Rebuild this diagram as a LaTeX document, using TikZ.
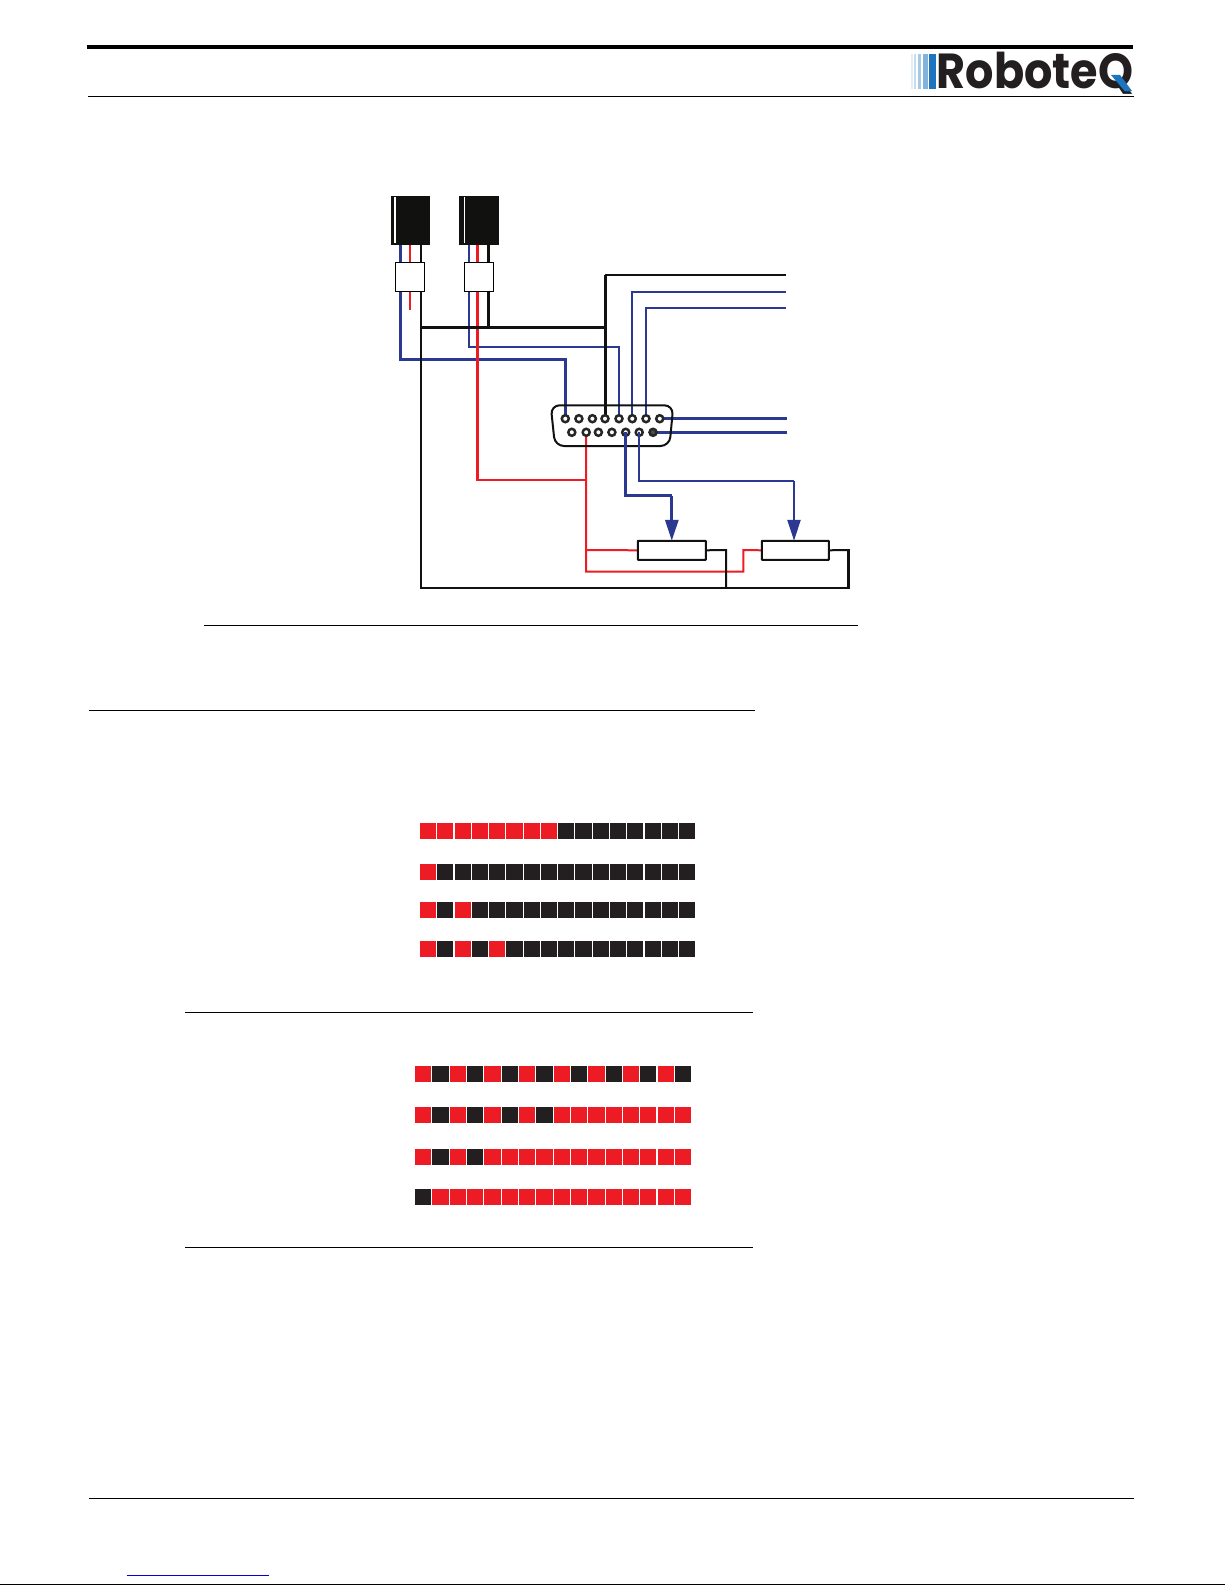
\documentclass[tikz,border=0pt]{standalone}
\usepackage{fontspec}
\setmainfont{Poppins}
\usetikzlibrary{arrows.meta, backgrounds}
\definecolor{wireblue}{RGB}{43,57,144}
\definecolor{wirered}{RGB}{237,28,36}
\definecolor{wireblack}{RGB}{17,17,15}
\definecolor{ledblack}{RGB}{35,31,32}
\definecolor{logoblue}{RGB}{28,117,190}
\def\px{0.02cm}
\tikzset{
    capbox/.style={fill=wireblack, draw=none, minimum width=39*\px, minimum height=49*\px, inner sep=0, outer sep=0},
    plugbox/.style={fill=white, draw=black, line width=1*\px, minimum width=29*\px, minimum height=29*\px, inner sep=0, outer sep=0},
    potbox/.style={fill=white, draw=wireblack, line width=2*\px, rounded corners=0.5*\px, minimum height=19*\px, inner sep=0, outer sep=0},
    pinhole/.style={circle, fill=white, draw=black!85, line width=2.5*\px, minimum size=7*\px, inner sep=0, outer sep=0},
    bluethin/.style={wireblue, line width=2*\px},
    bluemid/.style={wireblue, line width=2.5*\px},
    bluebold/.style={wireblue, line width=3*\px},
    redthin/.style={wirered, line width=2*\px},
    redbold/.style={wirered, line width=2.5*\px},
    blackthin/.style={wireblack, line width=2*\px},
    blackbold/.style={wireblack, line width=3*\px},
    rulethin/.style={black, line width=1*\px},
    wiper/.style={-{Triangle[length=21*\px, width=13*\px]}}
}

\begin{document}
\begin{tikzpicture}[x=\px, y=-\px]
        \useasboundingbox (0,0) rectangle (1225,1585);

        % Page rules
        \draw[black, line width=4*\px] (87,46.7) -- (1133,46.7);
        \draw[rulethin] (88,96.7) -- (1134,96.7);
        \draw[rulethin] (204,625.3) -- (858,625.3);
        \draw[rulethin] (89,710.2) -- (755,710.2);
        \draw[rulethin] (185,1012.4) -- (753,1012.4);
        \draw[rulethin] (185,1247.3) -- (753,1247.3);
        \draw[rulethin] (89,1498.3) -- (1134,1498.3);
        \draw[blue!85!black, line width=1*\px] (126.7,1575) -- (269,1575);
        \draw[rulethin] (0,1584.3) -- (1225,1584.3);

        % Logo
        \foreach \xa/\xb/\shade in {911.3/912.7/12, 914/916/25, 917.5/920.5/40, 922.5/927.5/55, 929/936/100} {
            \fill[logoblue!\shade] (\xa,54) rectangle (\xb,88.7);
        }
        \node[font=\bfseries, text=ledblack, anchor=base west, inner sep=0, xscale=0.905, transform shape] (logotext) at (936.5,88.7) {\fontsize{28}{28}\selectfont RoboteQ};
        \fill[logoblue] (1111,75) -- (1120,75) -- (1132,91) -- (1125,91.5) -- cycle;

        % Sensor caps and plugs
        \node[capbox] (capA) at (410.5,220.5) {};
        \node[capbox, minimum width=40*\px] (capB) at (479,220.5) {};
        \fill[white] (394,197) rectangle (396,243);
        \fill[white] (464,197) rectangle (465,243);
        \node[plugbox] (plugA) at (409.8,276.8) {};
        \node[plugbox] (plugB) at (478.8,276.8) {};

        % 15 pin connector
        \draw[wireblack, line width=2*\px, rounded corners=9*\px] (550.7,405.3) -- (673.3,405.3) -- (669.5,446) -- (555,446) -- cycle;
        \foreach \i/\xpin in {1/565.3, 2/578.9, 3/592.4, 4/605, 5/619, 6/632.3, 7/646, 8/659.7} {
            \node[pinhole] (upper\i) at (\xpin,418.7) {};
        }
        \foreach \i/\xpin in {1/571.8, 2/586.2, 3/598.4, 4/611.9, 5/625.7, 6/639.2} {
            \node[pinhole] (lower\i) at (\xpin,432.3) {};
        }
        \node[pinhole, fill=black!70] (lower7) at (653,432.3) {};

        % Potentiometers
        \node[potbox, minimum width=68*\px] (potA) at (671.8,550.3) {};
        \node[potbox, minimum width=67*\px] (potB) at (795.3,550.3) {};

        % Bends and free wire ends
        \coordinate (stubA) at (410,310);
        \coordinate (bendA) at (400.3,359.3);
        \coordinate (bendB) at (469,346.7);
        \coordinate (busL) at (421,327);
        \coordinate (tapB) at (488.3,327);
        \coordinate (busR) at (605,327);
        \coordinate (cornerL) at (421,587.7);
        \coordinate (cornerR) at (848.3,587.7);
        \coordinate (cornerT) at (848.3,550);
        \coordinate (dropA) at (726,550);
        \coordinate (dropB) at (726,587.7);
        \coordinate (feedB) at (477.3,480);
        \coordinate (feedJ) at (586.2,480);
        \coordinate (potJ) at (586.2,550);
        \coordinate (loopL) at (586.2,571.7);
        \coordinate (loopR) at (743.3,571.7);
        \coordinate (loopT) at (743.3,550);
        \coordinate (wipeA) at (671.8,495.5);
        \coordinate (wipeB) at (794,481);
        \coordinate (endK) at (786,275);
        \coordinate (topK) at (605,275);
        \coordinate (endP) at (786,291.5);
        \coordinate (endQ) at (786,308);
        \coordinate (endR) at (786.5,418.7);
        \coordinate (endS) at (786.5,432.3);

        % Wires
        \begin{scope}[on background layer]
            \draw[bluebold] (capA.south -| bendA) -- (bendA) -| (upper1.center);
            \draw[redthin] (capA.south -| stubA) -- (stubA);
            \draw[blackthin] (capA.south -| busL) -- (cornerL) -- (cornerR);
            \draw[blackbold, line cap=rect] (cornerR) -- (cornerT);
            \draw[blackthin] (cornerT) -- (potB.east);

            \draw[bluethin] (capB.south -| bendB) -- (bendB) -| (upper5.center);
            \draw[redbold] (capB.south -| feedB) -- (feedB) -- (feedJ);
            \draw[blackbold] (capB.south -| tapB) -- (tapB);

            \draw[blackbold] (busL) -- (busR);
            \draw[blackbold] (topK) -- (upper4.center);
            \draw[blackthin] (topK) -- (endK);
            \draw[bluethin] (endP) -| (upper6.center);
            \draw[bluethin] (endQ) -| (upper7.center);
            \draw[bluemid] (upper8.center) -- (endR);
            \draw[bluemid] (lower7.center) -- (endS);

            \draw[redthin] (lower2.center) -- (loopL) -- (loopR) -- (loopT) -- (potB.west);
            \draw[redthin] (potJ) -- (potA.west);
            \draw[blackthin] (potA.east) -- (dropA) -- (dropB);
        \end{scope}

        % Wipers
        \draw[bluemid] (lower5.center) |- (wipeA);
        \draw[bluebold, wiper] (wipeA) -- (potA.north);
        \draw[bluemid] (lower6.center) |- (wipeB);
        \draw[bluemid, wiper] (wipeB) -- (wipeB |- potB.north);

        % LED patterns: every bar is black first, then the red cells go on top
        \def\ledstep{17.27}
        \foreach \ytop/\reds in {823/{0,...,7}, 864/{0}, 902/{0,2}, 940.5/{0,2,4}} {
            \foreach \i in {0,...,15} {
                \fill[ledblack] (420+\i*\ledstep,\ytop) rectangle ++(16.2,16);
            }
            \foreach \i in \reds {
                \fill[wirered] (420+\i*\ledstep,\ytop) rectangle ++(16.2,16);
            }
        }
        \def\ledstep{17.33}
        \foreach \ytop/\reds in {1066/{0,2,...,14}, 1107/{0,2,4,6,8,9,...,15}, 1148.5/{0,2,4,5,...,15}, 1189/{1,2,...,15}} {
            \foreach \i in {0,...,15} {
                \fill[ledblack] (415+\i*\ledstep,\ytop) rectangle ++(16.2,16);
            }
            \foreach \i in \reds {
                \fill[wirered] (415+\i*\ledstep,\ytop) rectangle ++(16.2,16);
            }
        }
\end{tikzpicture}
\end{document}
